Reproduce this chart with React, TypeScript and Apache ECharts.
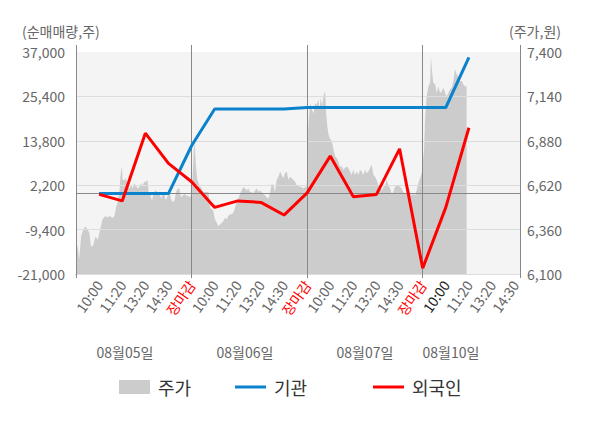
import { useEffect, useRef } from 'react';
import * as echarts from 'echarts';

// x axis: one unit = one label slot; labels sit at slots 1..19
const timeLabels = ['', '10:00', '11:20', '13:20', '14:30', '장마감', '10:00', '11:20', '13:20', '14:30', '장마감', '10:00', '11:20', '13:20', '14:30', '장마감', '10:00', '11:20', '13:20', '14:30'];
const closeLabel = '장마감';
const currentLabelIndex = 16;
const dateLabels = ['08월05일', '08월06일', '08월07일', '08월10일'];
const xMax = 19.21;

// net buy (shares), left axis
const flowSlots = [1, 2, 3, 4, 5, 6, 7, 8, 9, 10, 11, 12, 13, 14, 15, 16, 17];
const institution = [0, 0, 0, 0, 12500, 22100, 22100, 22100, 22100, 22500, 22500, 22500, 22500, 22500, 22500, 22500, 35600];
const foreigner = [-200, -1900, 15800, 7900, 3100, -3600, -1900, -2300, -5600, 200, 9800, -800, -200, 11700, -19500, -3600, 17200];

// stock price (won), right axis: [slot, price]
const priceDay1: [number, number][] = [[0, 6280], [0.07, 6260], [0.14, 6190], [0.22, 6320], [0.29, 6350], [0.4, 6380], [0.5, 6360], [0.58, 6340], [0.65, 6260], [0.75, 6270], [0.84, 6320], [0.94, 6300], [1.01, 6340], [1.08, 6380], [1.15, 6420], [1.27, 6440], [1.37, 6430], [1.44, 6440], [1.59, 6430], [1.66, 6440], [1.73, 6490], [1.8, 6520], [1.88, 6580], [1.92, 6670], [1.98, 6730], [2.02, 6650], [2.09, 6650], [2.16, 6660], [2.24, 6620], [2.31, 6600], [2.38, 6620], [2.45, 6600], [2.52, 6630], [2.6, 6620], [2.67, 6600], [2.74, 6610], [2.81, 6630], [2.88, 6620], [2.96, 6640], [3.03, 6640], [3.1, 6650], [3.14, 6580], [3.2, 6570], [3.29, 6530], [3.35, 6570], [3.43, 6590], [3.53, 6580], [3.61, 6580], [3.68, 6540], [3.75, 6570], [3.82, 6570], [3.89, 6530], [3.97, 6560], [4.04, 6580], [4.11, 6540], [4.18, 6520], [4.26, 6530], [4.33, 6580], [4.4, 6600], [4.47, 6600], [4.54, 6550], [4.62, 6560], [4.69, 6570], [4.76, 6560], [4.83, 6560], [4.9, 6550], [4.98, 6560]];
const priceDay2: [number, number][] = [[5.0, 6550], [5.05, 6690], [5.11, 6870], [5.15, 6830], [5.19, 6730], [5.25, 6650], [5.34, 6620], [5.44, 6600], [5.51, 6580], [5.58, 6580], [5.65, 6580], [5.73, 6580], [5.8, 6490], [5.94, 6470], [6.01, 6420], [6.09, 6400], [6.16, 6380], [6.23, 6390], [6.3, 6400], [6.38, 6410], [6.45, 6430], [6.52, 6420], [6.59, 6440], [6.66, 6450], [6.74, 6450], [6.81, 6460], [6.88, 6490], [6.95, 6520], [7.02, 6540], [7.1, 6570], [7.17, 6590], [7.24, 6610], [7.31, 6600], [7.39, 6590], [7.46, 6600], [7.53, 6580], [7.6, 6580], [7.67, 6570], [7.75, 6590], [7.82, 6600], [7.89, 6580], [7.96, 6590], [8.03, 6580], [8.11, 6570], [8.18, 6560], [8.25, 6550], [8.32, 6540], [8.39, 6570], [8.47, 6630], [8.54, 6620], [8.61, 6580], [8.68, 6650], [8.76, 6670], [8.83, 6700], [8.9, 6680], [8.97, 6660], [9.04, 6690], [9.12, 6700], [9.19, 6650], [9.26, 6670], [9.33, 6660], [9.4, 6650], [9.48, 6640], [9.55, 6620], [9.62, 6620], [9.69, 6610], [9.77, 6610], [9.84, 6600], [9.91, 6610], [9.98, 6610]];
const priceDay3: [number, number][] = [[10.0, 6680], [10.05, 6960], [10.1, 7060], [10.15, 7100], [10.21, 7060], [10.27, 7040], [10.34, 7100], [10.41, 7090], [10.49, 7120], [10.53, 7060], [10.59, 7130], [10.65, 7080], [10.7, 7140], [10.78, 7170], [10.82, 7040], [10.88, 6960], [10.92, 6920], [10.99, 6890], [11.06, 6880], [11.14, 6830], [11.21, 6790], [11.28, 6780], [11.35, 6760], [11.42, 6730], [11.5, 6730], [11.57, 6710], [11.64, 6720], [11.71, 6730], [11.78, 6720], [11.86, 6700], [11.93, 6680], [12.0, 6710], [12.07, 6680], [12.15, 6700], [12.22, 6680], [12.29, 6710], [12.36, 6700], [12.43, 6680], [12.51, 6710], [12.58, 6690], [12.65, 6700], [12.72, 6720], [12.79, 6740], [12.87, 6680], [12.94, 6670], [13.01, 6650], [13.08, 6620], [13.16, 6600], [13.23, 6590], [13.3, 6610], [13.37, 6620], [13.44, 6650], [13.52, 6620], [13.59, 6600], [13.66, 6570], [13.73, 6580], [13.8, 6610], [13.88, 6620], [13.95, 6620], [14.02, 6610], [14.09, 6600], [14.16, 6580], [14.24, 6570], [14.31, 6580], [14.38, 6600], [14.45, 6580], [14.53, 6560], [14.6, 6570], [14.67, 6560], [14.74, 6590], [14.81, 6630], [14.89, 6660], [14.96, 6690]];
const priceDay4: [number, number][] = [[15.06, 6830], [15.1, 7000], [15.17, 7140], [15.25, 7200], [15.32, 7220], [15.36, 7370], [15.41, 7280], [15.46, 7220], [15.54, 7210], [15.61, 7160], [15.68, 7200], [15.75, 7160], [15.82, 7170], [15.9, 7190], [15.97, 7160], [16.04, 7140], [16.11, 7160], [16.18, 7180], [16.26, 7190], [16.33, 7230], [16.4, 7300], [16.47, 7270], [16.54, 7250], [16.62, 7230], [16.69, 7230], [16.76, 7210], [16.83, 7200], [16.9, 7200]];

const FONT = '"Noto Sans CJK KR", "Noto Sans", sans-serif';
const LINE_ICON = 'path://M0,0H31V3H0Z';

export default function App() {
  const ref = useRef<HTMLDivElement>(null);
  useEffect(() => {
    const chart = echarts.init(ref.current!, null, { renderer: 'svg' });
    const prices = [...priceDay1, ...priceDay2, ...priceDay3, ...priceDay4];
    const legendText = { fontSize: 18, color: '#333', fontFamily: FONT, padding: [0, 0, 0, 3] };
    const option: any = {
      animation: false,
      backgroundColor: '#ffffff',
      textStyle: { fontFamily: FONT },
      grid: [
        { left: 76, right: 80, top: 52, bottom: 154, show: true, backgroundColor: '#f4f4f4', borderWidth: 0 },
        { left: 76, right: 80, top: 45, bottom: 150, show: false },
      ],
      xAxis: [
        {
          type: 'value', gridIndex: 0, min: 0, max: xMax, interval: 1,
          axisLine: { show: true, onZero: false, lineStyle: { color: '#999', width: 1 } },
          axisTick: { show: false },
          splitLine: { show: false },
          axisLabel: {
            rotate: 55, margin: 8, fontSize: 14, color: '#666', fontFamily: FONT,
            showMinLabel: true, showMaxLabel: true,
            formatter: (v: number) => {
              const i = Math.round(v);
              if (Math.abs(v - i) > 1e-6 || i < 1 || i >= timeLabels.length) return '';
              const t = timeLabels[i];
              if (t === closeLabel) return `{red|${t}}`;
              if (i === currentLabelIndex) return `{dark|${t}}`;
              return t;
            },
            rich: {
              red: { color: '#ff0000', fontSize: 14, fontFamily: FONT },
              dark: { color: '#222', fontSize: 14, fontFamily: FONT },
            },
          },
        },
        {
          type: 'value', gridIndex: 1, min: 0, max: xMax, interval: 5, z: 3,
          axisLine: { show: false }, axisTick: { show: false }, axisLabel: { show: false },
          splitLine: { show: true, lineStyle: { color: '#888', width: 1 } },
        },
      ],
      yAxis: [
        {
          type: 'value', gridIndex: 0, position: 'left', min: -21000, max: 37000, interval: 11600, z: 3,
          axisLine: { show: false }, axisTick: { show: false },
          axisLabel: { fontSize: 14, color: '#666', margin: 11, fontFamily: FONT, formatter: (v: number) => v.toLocaleString('en-US') },
          splitLine: { show: true, lineStyle: { color: ['#dddddd', '#dddddd', '#dddddd', '#dddddd', '#dddddd', 'rgba(0,0,0,0)'], width: 1 } },
        },
        {
          type: 'value', gridIndex: 0, position: 'right', min: 6100, max: 7400, interval: 260,
          axisLine: { show: false }, axisTick: { show: false },
          axisLabel: { fontSize: 14, color: '#666', margin: 7, fontFamily: FONT, formatter: (v: number) => v.toLocaleString('en-US') },
          splitLine: { show: false },
        },
        { type: 'value', gridIndex: 1, show: false, min: 0, max: 1 },
      ],
      legend: [
        { left: 114, top: 373, itemWidth: 31, itemHeight: 14, textStyle: legendText, data: [{ name: '주가', icon: 'rect', itemStyle: { color: '#cccccc' } }] },
        { left: 230, top: 373, itemWidth: 31, itemHeight: 3, textStyle: legendText, data: [{ name: '기관', icon: LINE_ICON, itemStyle: { color: '#0a82cc' } }] },
        { left: 368, top: 373, itemWidth: 31, itemHeight: 3, textStyle: legendText, data: [{ name: '외국인', icon: LINE_ICON, itemStyle: { color: '#ff0000' } }] },
      ],
      graphic: [
        { type: 'text', left: 22, top: 24, style: { text: '(순매매량,주)', fill: '#666', font: `14px ${FONT}` } },
        { type: 'text', left: 509, top: 24, style: { text: '(주가,원)', fill: '#666', font: `14px ${FONT}` } },
        ...dateLabels.map((d, i) => ({
          type: 'text', x: [125, 245, 365, 451][i], y: 352,
          style: { text: d, fill: '#666', font: `14px ${FONT}`, textAlign: 'center', textVerticalAlign: 'middle' },
        })),
      ],
      series: [
        {
          name: '주가', type: 'line', xAxisIndex: 0, yAxisIndex: 1, data: prices, z: 2,
          symbol: 'none', showSymbol: false,
          lineStyle: { width: 0, color: '#cccccc' }, itemStyle: { color: '#cccccc' },
          areaStyle: { color: '#cccccc', opacity: 1, origin: 'start' },
        },
        {
          name: 'zero', type: 'line', xAxisIndex: 0, yAxisIndex: 0, data: [], z: 3,
          markLine: { silent: true, symbol: 'none', label: { show: false }, lineStyle: { color: '#888', width: 1, type: 'solid' }, data: [{ yAxis: 0 }] },
        },
        {
          name: '기관', type: 'line', xAxisIndex: 0, yAxisIndex: 0, z: 5,
          data: flowSlots.map((s, i) => [s, institution[i]]),
          symbol: 'none', lineStyle: { width: 3, color: '#0a82cc' }, itemStyle: { color: '#0a82cc' },
        },
        {
          name: '외국인', type: 'line', xAxisIndex: 0, yAxisIndex: 0, z: 6,
          data: flowSlots.map((s, i) => [s, foreigner[i]]),
          symbol: 'none', lineStyle: { width: 3, color: '#ff0000' }, itemStyle: { color: '#ff0000' },
        },
      ],
    };
    chart.setOption(option);
    return () => chart.dispose();
  }, []);
  return <div ref={ref} style={{ position: 'fixed', left: 0, top: 0, width: 600, height: 428, background: '#fff' }} />;
}
